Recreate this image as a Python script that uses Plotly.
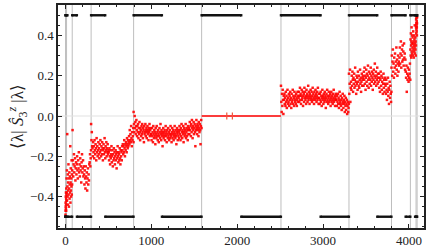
import numpy as np
import plotly.graph_objects as go

# ---------------- data ----------------
# Sector boundaries (eigenstate index lambda), one sector per magnetisation
sector_start = [0, 1, 13, 79, 299, 794, 1586, 2510, 3302, 3797, 4017, 4083, 4095]
sector_end = [0, 12, 78, 298, 793, 1585, 2509, 3301, 3796, 4016, 4082, 4094, 4095]
boundary_lines = [1, 13, 79, 299, 794, 1586, 2510, 3302, 3797, 4017, 4083, 4095]

# <lambda|S3z|lambda> read (subsampled) from the picture, per sector
s0 = [-0.49]
s1 = [-0.47, -0.43, -0.45, -0.40, -0.46, -0.38, -0.44, -0.41, -0.47, -0.36, -0.42, -0.39]
s2 = [-0.31, -0.38, -0.27, -0.42, -0.09, -0.35, -0.40, -0.29, -0.44, -0.33,
      -0.37, -0.24, -0.39, -0.31, -0.45, -0.36, -0.28, -0.41, -0.34, -0.30,
      -0.38, -0.15, -0.43, -0.33, -0.26, -0.37, -0.40, -0.31, -0.35, -0.22,
      -0.39, -0.29, -0.34]
s3 = [-0.27, -0.07, -0.22, -0.30, -0.24, -0.19, -0.28, -0.25, -0.21, -0.32, -0.26, -0.23, -0.29,
      -0.24, -0.20, -0.27, -0.31, -0.22, -0.26, -0.18, -0.28, -0.24, -0.30, -0.21, -0.27, -0.25,
      -0.33, -0.23, -0.19, -0.28, -0.26, -0.22, -0.30, -0.25,
      -0.29, -0.34, -0.27, -0.31, -0.36, -0.25, -0.30, -0.33, -0.28, -0.37, -0.31, -0.26, -0.34,
      -0.29, -0.32, -0.24,
      -0.23, -0.19, -0.25, -0.21, -0.17]
s4 = [-0.04, -0.12, -0.08, -0.15,
      -0.16, -0.20, -0.13, -0.18, -0.15, -0.21, -0.12, -0.17, -0.19, -0.14,
      -0.16, -0.22, -0.11, -0.18, -0.15, -0.20, -0.17, -0.13, -0.19, -0.16,
      -0.21, -0.14, -0.18, -0.12, -0.17, -0.20, -0.15, -0.19, -0.13, -0.16,
      -0.22, -0.17, -0.14, -0.19, -0.16, -0.11, -0.18, -0.21, -0.15, -0.17,
      -0.13, -0.20, -0.16, -0.18, -0.14, -0.19, -0.17,
      -0.18, -0.22, -0.16, -0.20, -0.24, -0.17, -0.21, -0.19, -0.15, -0.23,
      -0.20, -0.17, -0.25, -0.19, -0.22, -0.16, -0.21, -0.18, -0.24, -0.20,
      -0.17, -0.22, -0.19, -0.26, -0.18, -0.21, -0.15, -0.20, -0.23, -0.18,
      -0.19, -0.22, -0.16, -0.21, -0.24, -0.17, -0.20, -0.18, -0.22, -0.15,
      -0.17, -0.14, -0.19, -0.15, -0.18, -0.12, -0.16, -0.20, -0.14, -0.17,
      -0.13, -0.15, -0.18, -0.11, -0.14, -0.16, -0.12, -0.15, -0.13,
      -0.10, -0.14, -0.07, -0.12, -0.09, -0.13, -0.05, -0.11, -0.15, -0.08,
      -0.12, -0.10, -0.06, -0.13]
s5 = [0.02, -0.04, -0.08, 0.00, -0.06, -0.03, -0.09, -0.05, -0.02,
      -0.07, -0.10, -0.05, -0.08, -0.04, -0.11, -0.06, -0.09, -0.03, -0.08,
      -0.12, -0.06, -0.07, -0.10, -0.05, -0.09, -0.04, -0.08, -0.11, -0.06,
      -0.07, -0.13, -0.05, -0.09, -0.08, -0.04, -0.10, -0.07, -0.06, -0.11,
      -0.08, -0.05, -0.09, -0.07, -0.12, -0.06, -0.08, -0.04, -0.10, -0.07,
      -0.09, -0.06,
      -0.09, -0.12, -0.06, -0.10, -0.08, -0.13, -0.05, -0.09, -0.11, -0.07,
      -0.10, -0.08, -0.14, -0.06, -0.09, -0.11, -0.05, -0.10, -0.08, -0.12,
      -0.07, -0.09, -0.13, -0.10, -0.06, -0.08, -0.11, -0.04, -0.09, -0.12,
      -0.07, -0.10, -0.08, -0.15, -0.09, -0.06, -0.11, -0.08, -0.10, -0.07,
      -0.12, -0.09, -0.05, -0.10, -0.08, -0.13, -0.07, -0.09, -0.11, -0.06,
      -0.10, -0.08, -0.12, -0.09, -0.07, -0.11, -0.05, -0.09, -0.10, -0.13,
      -0.08, -0.06, -0.11, -0.09, -0.07, -0.12, -0.10, -0.08, -0.05, -0.09,
      -0.11, -0.07, -0.10, -0.14, -0.08, -0.06, -0.09, -0.12, -0.07, -0.10,
      -0.08, -0.11, -0.05, -0.09, -0.07, -0.12, -0.06, -0.10, -0.04, -0.08,
      -0.11, -0.07, -0.09, -0.05, -0.13, -0.08, -0.06, -0.10, -0.07, -0.09,
      -0.04, -0.11, -0.08, -0.06, -0.10, -0.07, -0.12, -0.05, -0.09, -0.07,
      -0.06, -0.09, -0.03, -0.07, -0.05, -0.10, -0.04, -0.08, -0.02, -0.06,
      -0.11, -0.05, -0.07, -0.03, -0.09, -0.06, -0.04, -0.08, -0.15, -0.05,
      -0.07, -0.02, -0.06, -0.09, -0.04, -0.07, -0.05, -0.10, -0.03, -0.06,
      -0.08, -0.04, -0.07, -0.14, -0.05, -0.02, -0.06]
s6_x = [1586, 2509]          # middle sector: exactly zero
s6_y = [0.0, 0.0]
s6_blip_x = [1879, 1944]
s6_blip_y = [0.0, 0.0]
s7 = [0.15, 0.07, 0.02, 0.11, 0.05, 0.13, 0.08, 0.01, 0.10,
      0.08, 0.11, 0.06, 0.09, 0.05, 0.12, 0.07, 0.10, 0.04, 0.08,
      0.13, 0.06, 0.09, 0.07, 0.11, 0.05, 0.10, 0.08, 0.12, 0.06,
      0.09, 0.04, 0.11, 0.07, 0.08, 0.13, 0.06, 0.10, 0.09, 0.05,
      0.12, 0.08, 0.07, 0.10, 0.06, 0.11, 0.09, 0.05, 0.08, 0.12,
      0.07, 0.10,
      0.09, 0.12, 0.07, 0.10, 0.14, 0.08, 0.11, 0.06, 0.10, 0.13,
      0.08, 0.09, 0.12, 0.05, 0.10, 0.11, 0.07, 0.14, 0.09, 0.12,
      0.08, 0.10, 0.06, 0.13, 0.09, 0.11, 0.07, 0.10, 0.15, 0.08,
      0.12, 0.09, 0.06, 0.11, 0.10, 0.13, 0.08, 0.09, 0.12, 0.07,
      0.10, 0.14, 0.08, 0.11, 0.09, 0.06, 0.12, 0.10, 0.08, 0.13,
      0.09, 0.11, 0.07, 0.10, 0.12, 0.08, 0.14, 0.09, 0.06, 0.11,
      0.09, 0.06, 0.11, 0.08, 0.12, 0.07, 0.10, 0.05, 0.09, 0.13,
      0.08, 0.10, 0.06, 0.11, 0.09, 0.07, 0.12, 0.08, 0.10, 0.04,
      0.09, 0.11, 0.07, 0.13, 0.08, 0.10, 0.06, 0.09, 0.12, 0.07,
      0.10, 0.08, 0.11, 0.05, 0.09, 0.12, 0.07, 0.10, 0.08, 0.06,
      0.11, 0.09, 0.13, 0.07, 0.08, 0.10, 0.05, 0.09, 0.11, 0.08,
      0.08, 0.05, 0.10, 0.07, 0.11, 0.06, 0.09, 0.04, 0.08, 0.12,
      0.06, 0.07, 0.10, 0.05, 0.08, 0.03, 0.09, 0.06, 0.11, 0.07,
      0.04, 0.08, 0.06, 0.10, 0.02, 0.07, 0.05, 0.09, 0.03, 0.06,
      0.08, 0.01, 0.05, 0.07, 0.02, 0.04, 0.06]
s8 = [0.21, 0.11, 0.16, 0.23, 0.07, 0.14,
      0.17, 0.13, 0.20, 0.15, 0.22, 0.18, 0.12, 0.19, 0.16, 0.21,
      0.14, 0.18, 0.24, 0.15, 0.17, 0.11, 0.20, 0.16, 0.19, 0.13,
      0.22, 0.17, 0.15, 0.20, 0.14, 0.18, 0.23, 0.16, 0.19, 0.12,
      0.17, 0.21, 0.15, 0.18, 0.20,
      0.19, 0.15, 0.22, 0.18, 0.24, 0.16, 0.20, 0.13, 0.19, 0.23,
      0.17, 0.21, 0.15, 0.20, 0.25, 0.18, 0.14, 0.22, 0.19, 0.16,
      0.21, 0.18, 0.24, 0.15, 0.20, 0.17, 0.22, 0.19, 0.13, 0.21,
      0.18, 0.23, 0.16, 0.20, 0.26, 0.17, 0.19, 0.22, 0.15, 0.20,
      0.18, 0.24, 0.16, 0.21, 0.19,
      0.17, 0.21, 0.14, 0.19, 0.12, 0.18, 0.22, 0.15, 0.20, 0.13,
      0.17, 0.19, 0.11, 0.16, 0.21, 0.14, 0.18, 0.12, 0.16, 0.19,
      0.15, 0.11, 0.18, 0.13, 0.08, 0.16, 0.12, 0.19, 0.10, 0.14,
      0.06, 0.13, 0.17, 0.09, 0.15, 0.11, 0.07, 0.12]
s9 = [0.24, 0.30, 0.20, 0.27, 0.33, 0.22, 0.26, 0.19, 0.29, 0.24, 0.31, 0.21,
      0.27, 0.25, 0.34, 0.23, 0.28, 0.20, 0.26, 0.30, 0.22, 0.27, 0.25,
      0.29, 0.34, 0.26, 0.31, 0.37, 0.24, 0.30, 0.33, 0.27, 0.35, 0.28, 0.32,
      0.25, 0.36, 0.29, 0.31, 0.23, 0.28,
      0.22, 0.19, 0.25, 0.12, 0.21, 0.18, 0.24, 0.20, 0.17, 0.23, 0.19, 0.21, 0.26, 0.18]
s10 = [0.33, 0.38, 0.30, 0.41, 0.35, 0.29, 0.37, 0.44, 0.32, 0.36, 0.40, 0.31,
       0.34, 0.39, 0.30, 0.36, 0.42, 0.33, 0.37, 0.29, 0.35, 0.40, 0.32, 0.38,
       0.34, 0.45, 0.31, 0.36, 0.39, 0.33, 0.37, 0.30, 0.35]
s11 = [0.44, 0.48, 0.41, 0.46, 0.43, 0.49, 0.45, 0.42, 0.47, 0.44, 0.40, 0.46]
s12 = [0.49]

# Diagonal (product-basis) values of S3z: segments at +1/2 and -1/2
up_start = [1, 13, 79, 299, 794, 1586, 2510, 3302, 3797, 4017, 4083, 4095]
up_end = [1, 23, 133, 463, 1123, 2047, 2971, 3631, 3961, 4071, 4093, 4095]
up_value = 0.5
down_start = [0, 2, 24, 134, 464, 1124, 2048, 2972, 3632, 3962, 4072, 4094]
down_end = [0, 12, 78, 298, 793, 1585, 2509, 3301, 3796, 4016, 4082, 4094]
down_value = -0.5

x_ticks = [0, 1000, 2000, 3000, 4000]
y_ticks = [-0.4, -0.2, 0.0, 0.2, 0.4]

# ---------------- figure ----------------
sectors = {0: s0, 1: s1, 2: s2, 3: s3, 4: s4, 5: s5, 7: s7, 8: s8, 9: s9,
           10: s10, 11: s11, 12: s12}
red_x, red_y = [], []
for k, vals in sectors.items():
    xs = np.linspace(sector_start[k], sector_end[k], len(vals))
    red_x.extend(np.round(xs).tolist())
    red_y.extend(vals)

seg_x, seg_y = [], []
for a, b in zip(up_start, up_end):
    seg_x += [a, b, None]
    seg_y += [up_value, up_value, None]
for a, b in zip(down_start, down_end):
    seg_x += [a, b, None]
    seg_y += [down_value, down_value, None]

fig = go.Figure()

fig.add_trace(go.Scatter(x=s6_x, y=s6_y, mode="lines",
                         line=dict(color="rgb(255,0,0)", width=1.6),
                         hoverinfo="skip", showlegend=False))
fig.add_trace(go.Scatter(x=s6_blip_x, y=s6_blip_y, mode="markers",
                         marker=dict(symbol="line-ns-open", size=5,
                                     line=dict(color="rgb(255,0,0)", width=1.2)),
                         showlegend=False))
fig.add_trace(go.Scatter(x=red_x, y=red_y, mode="markers",
                         marker=dict(symbol="square", size=2.5,
                                     color="rgba(255,0,0,0.9)"),
                         showlegend=False))
fig.add_trace(go.Scatter(x=seg_x, y=seg_y, mode="lines+markers",
                         line=dict(color="#111111", width=2.4),
                         marker=dict(symbol="square", size=2.4, color="#111111"),
                         connectgaps=False, showlegend=False))

shapes = [dict(type="line", xref="x", yref="paper", x0=b, x1=b, y0=0, y1=1,
               line=dict(color="rgb(190,190,190)", width=1), layer="below")
          for b in boundary_lines]
shapes.append(dict(type="line", xref="paper", yref="y", x0=0, x1=1, y0=0, y1=0,
                   line=dict(color="rgb(225,225,225)", width=1), layer="below"))

serif = "Liberation Serif, serif"
fig.update_layout(
    width=429, height=251,
    margin=dict(l=58, r=3, t=3, b=21, pad=0),
    paper_bgcolor="white", plot_bgcolor="white",
    shapes=shapes,
    font=dict(family=serif, size=13, color="#222222"),
    xaxis=dict(range=[-86.6, 4175.6], tickvals=x_ticks, ticks="inside", ticklen=4,
               tickwidth=1, tickcolor="#222222", showline=True, linecolor="#222222",
               linewidth=1.5, mirror="allticks", showgrid=False, zeroline=False,
               minor=dict(ticks="inside", ticklen=2.5, dtick=200, tick0=0,
                          tickcolor="#222222", showgrid=False),
               tickfont=dict(family=serif, size=13)),
    yaxis=dict(range=[-0.556, 0.551], tickvals=y_ticks, tickformat=".1f",
               ticks="inside", ticklen=4, tickwidth=1, tickcolor="#222222",
               showline=True, linecolor="#222222", linewidth=1.5,
               mirror="allticks", showgrid=False, zeroline=False,
               minor=dict(ticks="inside", ticklen=2.5, dtick=0.05, tick0=0,
                          tickcolor="#222222", showgrid=False),
               tickfont=dict(family=serif, size=13),
               title=dict(text="⟨λ| <i>Ŝ</i><sub>3</sub><sup><i>z</i></sup> |λ⟩",
                          font=dict(family=serif, size=17), standoff=2)),
)

fig.write_html("out.html", config={"displayModeBar": False},
               post_script="document.body.style.margin='0';document.body.style.padding='0';")
